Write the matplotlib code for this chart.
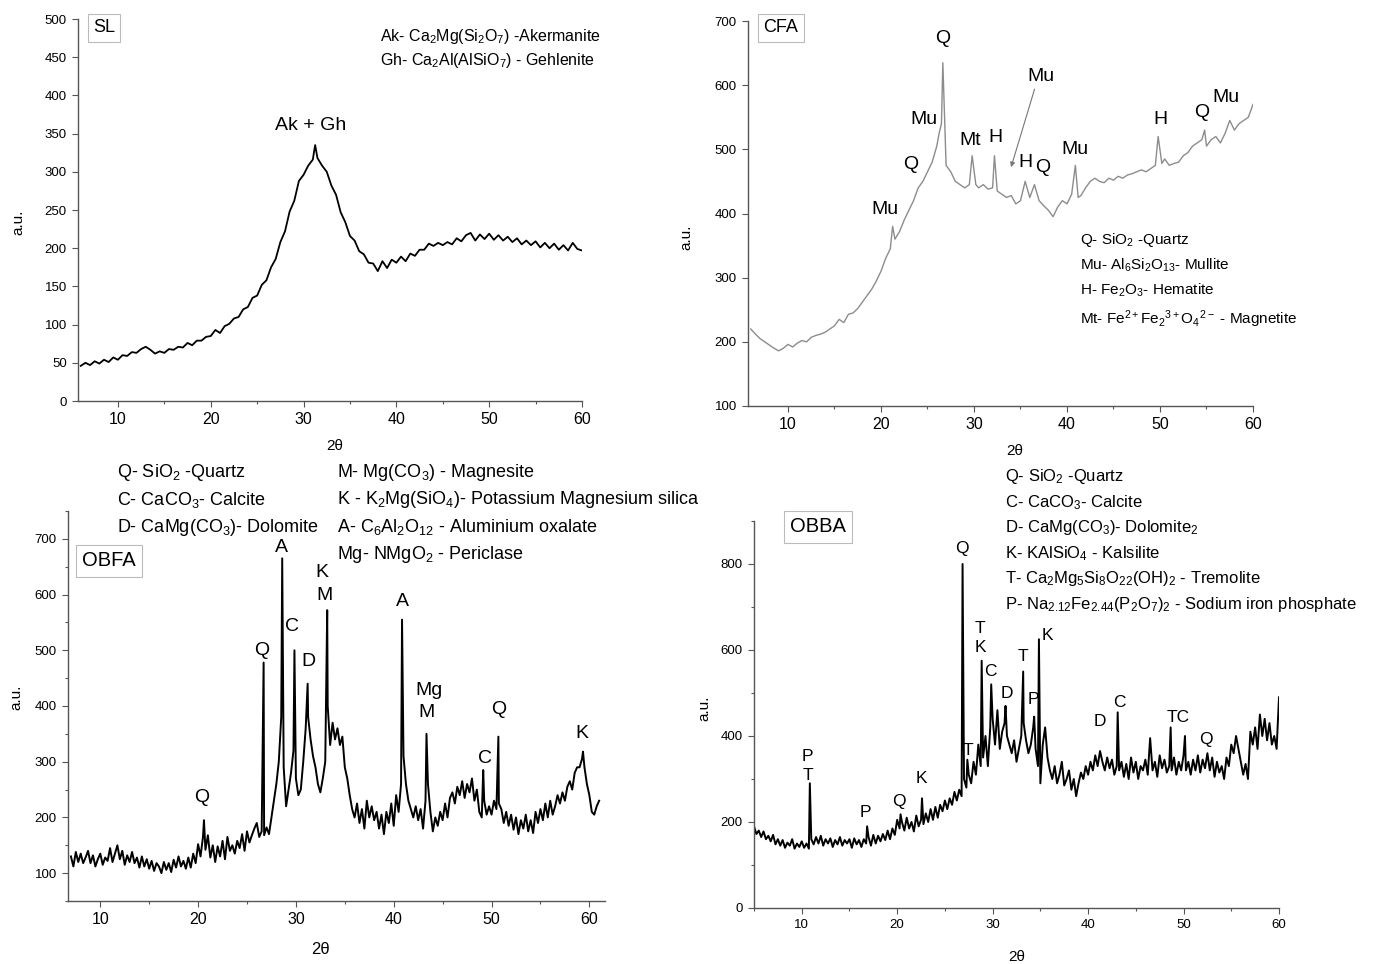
import numpy as np
import matplotlib
matplotlib.use("Agg")
import matplotlib.pyplot as plt
from matplotlib.ticker import MultipleLocator

plt.rcParams['font.family'] = ['Liberation Sans', 'DejaVu Sans']
plt.rcParams['mathtext.fontset'] = 'custom'
plt.rcParams['mathtext.rm'] = 'Liberation Sans'
plt.rcParams['mathtext.it'] = 'Liberation Sans:italic'
plt.rcParams['mathtext.bf'] = 'Liberation Sans:bold'

W, H = 1380, 964

# ---- SL: amorphous hump, sampled every 0.5 deg (6 .. 60)
sl_x = np.arange(6.0, 60.01, 0.5)
sl_y = [46, 50, 47, 52, 49, 54, 51, 57, 54, 60,
        59, 64, 63, 68, 71, 67, 62, 65, 63, 68,
        67, 71, 70, 76, 73, 79, 79, 84, 85, 93,
        89, 98, 101, 108, 110, 120, 123, 135, 138, 152,
        158, 175, 186, 208, 222, 248, 262, 288, 296, 308,
        316, 318, 308, 300, 282, 270, 247, 234, 216, 210,
        196, 192, 181, 180, 170, 183, 174, 185, 181, 189,
        183, 193, 190, 198, 198, 206, 203, 207, 204, 208,
        205, 213, 209, 217, 220, 210, 218, 212, 219, 211,
        217, 210, 215, 208, 213, 205, 210, 204, 209, 201,
        207, 200, 206, 198, 204, 197, 207, 199, 197]
sl_peak_x = [31.25]
sl_peak_y = [335]

# ---- CFA
cfa_x = [6.0, 6.5, 7.0, 7.5, 8.0, 8.5, 9.0, 9.5, 10.0, 10.5, 11.0, 11.5, 12.0, 12.5, 13.0,
         13.5, 14.0, 14.5, 15.0, 15.5, 16.0, 16.5, 17.0, 17.5, 18.0, 18.5, 19.0, 19.5, 20.0,
         20.5, 21.0, 21.25, 21.5, 22.0, 22.5, 23.0, 23.5, 24.0, 24.5, 25.0, 25.5, 26.0, 26.25,
         26.5, 26.65, 27.0, 27.5, 28.0, 28.5, 29.0, 29.5, 29.8, 30.2, 30.5, 31.0, 31.5, 32.0,
         32.2, 32.5, 33.0, 33.5, 34.0, 34.5, 35.0, 35.5, 36.0, 36.5, 37.0, 37.5, 38.0, 38.5,
         39.0, 39.5, 40.0, 40.5, 40.9, 41.2, 41.5, 42.0, 42.5, 43.0, 43.5, 44.0, 44.5, 45.0,
         45.5, 46.0, 46.5, 47.0, 47.5, 48.0, 48.5, 49.0, 49.5, 49.8, 50.2, 50.5, 51.0, 51.5,
         52.0, 52.5, 53.0, 53.5, 54.0, 54.5, 54.8, 55.0, 55.5, 56.0, 56.5, 57.0, 57.5, 58.0,
         58.5, 59.0, 59.5, 60.0]
cfa_y = [220, 212, 205, 200, 195, 190, 186, 190, 196, 192, 198, 202, 200, 207, 210,
         212, 215, 220, 225, 235, 230, 243, 245, 252, 262, 272, 282, 295, 310,
         330, 345, 380, 360, 372, 390, 405, 420, 440, 450, 465, 480, 505, 525,
         540, 635, 475, 465, 450, 445, 440, 445, 490, 445, 440, 445, 438, 440,
         490, 435, 430, 425, 428, 415, 420, 450, 425, 445, 420, 412, 405, 395,
         410, 420, 415, 430, 475, 425, 428, 440, 450, 455, 450, 448, 455, 452,
         458, 455, 460, 462, 465, 468, 465, 470, 475, 520, 478, 485, 475, 478,
         480, 490, 495, 505, 510, 515, 530, 505, 515, 520, 510, 525, 545, 530,
         540, 545, 550, 570]

# ---- OBFA: noisy background every 0.25 deg (7 .. 61) + sharp reflections
obfa_x = np.arange(7.0, 61.01, 0.25)
obfa_y = [130, 112, 138, 120, 135, 118, 128, 140, 118, 132, 112, 125,
          135, 115, 128, 122, 145, 120, 135, 150, 125, 140, 115, 132,
          120, 138, 118, 128, 110, 130, 112, 125, 108, 122, 104, 118,
          112, 100, 120, 106, 118, 102, 124, 110, 130, 112, 122, 108,
          128, 110, 135, 118, 152, 130, 165, 142, 168, 128, 150, 120,
          148, 130, 158, 125, 165, 140, 150, 135, 158, 145, 170, 140,
          175, 155, 168, 180, 190, 165, 175, 168, 182, 170, 200, 230,
          260, 300, 380, 290, 220, 250, 280, 320, 270, 240, 250, 300,
          360, 380, 340, 310, 290, 260, 245, 270, 300, 400, 330, 370,
          340, 360, 330, 345, 290, 270, 240, 215, 200, 225, 190, 215,
          180, 230, 200, 220, 195, 210, 180, 205, 170, 210, 190, 225,
          185, 240, 210, 260, 310, 260, 230, 215, 200, 220, 195, 215,
          180, 230, 260, 210, 175, 200, 185, 210, 195, 225, 200, 235,
          245, 225, 255, 240, 265, 235, 260, 245, 270, 230, 250, 210,
          200, 230, 205, 220, 205, 230, 215, 225, 215, 190, 210, 185,
          205, 178, 200, 170, 195, 180, 205, 175, 195, 172, 210, 190,
          215, 195, 225, 200, 230, 205, 220, 240, 225, 245, 230, 255,
          265, 250, 280, 290, 290, 305, 290, 260, 240, 210, 205, 220,
          230]
obfa_peak_x = [20.6, 26.7, 28.6, 29.85, 31.2, 33.2, 40.85, 43.35, 49.15, 50.7, 59.35]
obfa_peak_y = [195, 478, 665, 500, 440, 572, 555, 350, 285, 345, 318]

# ---- OBBA: noisy background every 0.25 deg (5 .. 60) + sharp reflections
obba_x = np.arange(5.0, 60.01, 0.25)
obba_y = [190, 172, 180, 165, 178, 160, 168, 155, 170, 148, 160, 145,
          158, 140, 152, 145, 160, 138, 150, 142, 155, 140, 150, 138,
          160, 148, 165, 150, 168, 145, 160, 150, 162, 142, 158, 148,
          165, 145, 158, 150, 160, 140, 162, 148, 158, 142, 160, 150,
          165, 145, 170, 150, 168, 155, 172, 158, 180, 160, 185, 170,
          205, 185, 200, 180, 210, 185, 200, 178, 215, 190, 205, 195,
          220, 200, 230, 205, 235, 210, 240, 225, 250, 230, 255, 240,
          270, 250, 275, 260, 300, 280, 310, 290, 340, 310, 380, 330,
          350, 400, 330, 420, 440, 380, 460, 370, 410, 430, 400, 380,
          360, 390, 340, 370, 400, 430, 390, 360, 380, 420, 370, 330,
          290, 380, 420, 350, 320, 300, 330, 290, 310, 340, 285, 300,
          320, 275, 300, 260, 290, 315, 300, 330, 310, 340, 320, 355,
          330, 365, 340, 320, 350, 325, 345, 310, 330, 320, 340, 305,
          335, 300, 350, 315, 340, 300, 330, 320, 345, 310, 395, 320,
          340, 305, 355, 325, 345, 315, 330, 320, 350, 310, 340, 320,
          355, 320, 340, 310, 345, 320, 355, 315, 345, 325, 360, 320,
          350, 305, 340, 315, 330, 300, 350, 330, 380, 360, 400, 370,
          340, 310, 335, 300, 410, 380, 420, 370, 450, 400, 440, 390,
          430, 380, 400, 370, 490]
obba_peak_x = [10.85, 16.85, 20.35, 22.6, 26.85, 27.35, 28.85, 29.85, 31.35, 33.2,
               34.35, 34.85, 43.1, 48.65, 50.15]
obba_peak_y = [290, 190, 218, 255, 800, 345, 575, 520, 470, 550,
               445, 625, 455, 420, 400]

# ---- phase labels
sl_labels = [("Ak + Gh", 30.8, 361)]
cfa_labels = [("Q", 26.6, 673), ("Mu", 24.6, 546), ("Mt", 29.6, 513), ("H", 32.3, 519),
              ("Mu", 37.2, 613), ("H", 35.5, 479), ("Q", 37.4, 471), ("Mu", 40.9, 500),
              ("Q", 23.2, 476), ("Mu", 20.4, 406), ("H", 50.1, 546), ("Q", 54.5, 557),
              ("Mu", 57.1, 580)]
obfa_labels = [("Q", 20.4, 236), ("Q", 26.5, 500), ("A", 28.5, 685), ("C", 29.6, 543),
               ("D", 31.3, 479), ("K", 32.7, 640), ("M", 32.9, 599), ("A", 40.9, 587),
               ("Mg", 43.6, 427), ("M", 43.4, 389), ("Q", 50.7, 393), ("C", 49.3, 305),
               ("K", 59.2, 351)]
obba_labels = [("Q", 26.8, 837), ("T", 28.7, 651), ("K", 28.7, 605), ("C", 29.8, 549),
               ("D", 31.5, 498), ("T", 33.2, 586), ("P", 34.3, 484), ("K", 35.7, 633),
               ("T", 27.4, 367), ("P", 10.6, 353), ("T", 10.6, 307), ("P", 16.7, 223),
               ("Q", 20.2, 247), ("K", 22.5, 302), ("D", 41.2, 433), ("C", 43.3, 479),
               ("TC", 49.4, 442), ("Q", 52.3, 393)]

sl_legend = [r"Ak- Ca$_2$Mg(Si$_2$O$_7$) -Akermanite",
             r"Gh- Ca$_2$Al(AlSiO$_7$) - Gehlenite"]
cfa_legend = [r"Q- SiO$_2$ -Quartz",
              r"Mu- Al$_6$Si$_2$O$_{13}$- Mullite",
              r"H- Fe$_2$O$_3$- Hematite",
              r"Mt- Fe$^{2+}$Fe$_2$$^{3+}$O$_4$$^{2-}$ - Magnetite"]
obfa_legend_l = [r"Q- SiO$_2$ -Quartz",
                 r"C- CaCO$_3$- Calcite",
                 r"D- CaMg(CO$_3$)- Dolomite"]
obfa_legend_r = [r"M- Mg(CO$_3$) - Magnesite",
                 r"K - K$_2$Mg(SiO$_4$)- Potassium Magnesium silica",
                 r"A- C$_6$Al$_2$O$_{12}$ - Aluminium oxalate",
                 r"Mg- NMgO$_2$ - Periclase"]
obba_legend = [r"Q- SiO$_2$ -Quartz",
               r"C- CaCO$_3$- Calcite",
               r"D- CaMg(CO$_3$)- Dolomite$_2$",
               r"K- KAlSiO$_4$ - Kalsilite",
               r"T- Ca$_2$Mg$_5$Si$_8$O$_{22}$(OH)$_2$ - Tremolite",
               r"P- Na$_{2.12}$Fe$_{2.44}$(P$_2$O$_7$)$_2$ - Sodium iron phosphate"]


def merge(gx, gy, px, py):
    x = np.concatenate([np.asarray(gx, float), np.asarray(px, float)])
    y = np.concatenate([np.asarray(gy, float), np.asarray(py, float)])
    o = np.argsort(x, kind="stable")
    return x[o], y[o]


fig = plt.figure(figsize=(W / 100, H / 100), dpi=100)


def rect(left, right, top, bottom):
    return [left / W, 1 - bottom / H, (right - left) / W, (bottom - top) / H]


def ftext(px, py, s, **kw):
    fig.text(px / W, 1 - py / H, s, **kw)


def style(ax, xlim, ylim, ymaj, ymin=None, xsize=11.5, ysize=9.5):
    ax.set_xlim(xlim)
    ax.set_ylim(ylim)
    for s in ["top", "right"]:
        ax.spines[s].set_visible(False)
    for s in ["left", "bottom"]:
        ax.spines[s].set_color("#555555")
        ax.spines[s].set_linewidth(1.0)
    ax.xaxis.set_major_locator(MultipleLocator(10))
    ax.xaxis.set_minor_locator(MultipleLocator(5))
    ax.yaxis.set_major_locator(MultipleLocator(ymaj))
    if ymin:
        ax.yaxis.set_minor_locator(MultipleLocator(ymin))
    ax.tick_params(which="major", direction="out", length=4, width=0.8, color="#555555", pad=4)
    ax.tick_params(which="minor", direction="out", length=2.5, width=0.8, color="#555555")
    ax.tick_params(axis="x", labelsize=xsize)
    ax.tick_params(axis="y", labelsize=ysize)


box = dict(boxstyle="square,pad=0.3", fc="white", ec="#bbbbbb", lw=0.8)

# SL
ax1 = fig.add_axes(rect(78, 582, 19, 401))
x, y = merge(sl_x, sl_y, sl_peak_x, sl_peak_y)
ax1.plot(x, y, color="black", lw=1.3)
style(ax1, (5.7, 60), (0, 500), 50)
for t, lx, ly in sl_labels:
    ax1.text(lx, ly, t, ha="center", va="center", fontsize=14)
ftext(104, 28, "SL", ha="center", va="center", fontsize=13, bbox=box)
for i, s in enumerate(sl_legend):
    ftext(380, 36 + i * 24, s, ha="left", va="center", fontsize=11.5)
ftext(18, 222, "a.u.", rotation=90, ha="center", va="center", fontsize=11)
ftext(335, 446, "2θ", ha="center", va="center", fontsize=11)

# CFA
ax2 = fig.add_axes(rect(748, 1253, 21, 406))
ax2.plot(cfa_x, cfa_y, color="#8c8c8c", lw=1.0)
style(ax2, (5.7, 60), (100, 700), 100)
for t, lx, ly in cfa_labels:
    ax2.text(lx, ly, t, ha="center", va="center", fontsize=14)
ax2.annotate("", xy=(33.9, 468), xytext=(36.6, 598),
             arrowprops=dict(arrowstyle="-|>", color="#777777", lw=0.8, mutation_scale=7))
ftext(781, 28, "CFA", ha="center", va="center", fontsize=13, bbox=box)
for i, s in enumerate(cfa_legend):
    ftext(1080, [240, 265, 290, 319][i], s, ha="left", va="center", fontsize=11)
ftext(686, 237, "a.u.", rotation=90, ha="center", va="center", fontsize=11)
ftext(1015, 451, "2θ", ha="center", va="center", fontsize=11)

# OBFA
ax3 = fig.add_axes(rect(68, 605, 511, 901))
x, y = merge(obfa_x, obfa_y, obfa_peak_x, obfa_peak_y)
ax3.plot(x, y, color="black", lw=1.4)
style(ax3, (6.7, 61.6), (50, 750), 100, 50)
for t, lx, ly in obfa_labels:
    ax3.text(lx, ly, t, ha="center", va="center", fontsize=14)
ftext(109, 561, "OBFA", ha="center", va="center", fontsize=14.5, bbox=box)
for i, s in enumerate(obfa_legend_l):
    ftext(117, 472 + i * 27.5, s, ha="left", va="center", fontsize=13)
for i, s in enumerate(obfa_legend_r):
    ftext(337, 472 + i * 27.5, s, ha="left", va="center", fontsize=13)
ftext(16, 697, "a.u.", rotation=90, ha="center", va="center", fontsize=11)
ftext(320, 950, "2θ", ha="center", va="center", fontsize=12)

# OBBA
ax4 = fig.add_axes(rect(754, 1279, 521, 908))
x, y = merge(obba_x, obba_y, obba_peak_x, obba_peak_y)
ax4.plot(x, y, color="black", lw=1.4)
style(ax4, (5, 60), (0, 900), 200, 100, xsize=9.5, ysize=9.5)
for t, lx, ly in obba_labels:
    ax4.text(lx, ly, t, ha="center", va="center", fontsize=12.5)
ftext(818, 527, "OBBA", ha="center", va="center", fontsize=14.5, bbox=box)
for i, s in enumerate(obba_legend):
    ftext(1005, 477 + i * 25.4, s, ha="left", va="center", fontsize=12)
ftext(704, 708, "a.u.", rotation=90, ha="center", va="center", fontsize=11)
ftext(1017, 957, "2θ", ha="center", va="center", fontsize=11)

fig.savefig("out.png", dpi=100)
